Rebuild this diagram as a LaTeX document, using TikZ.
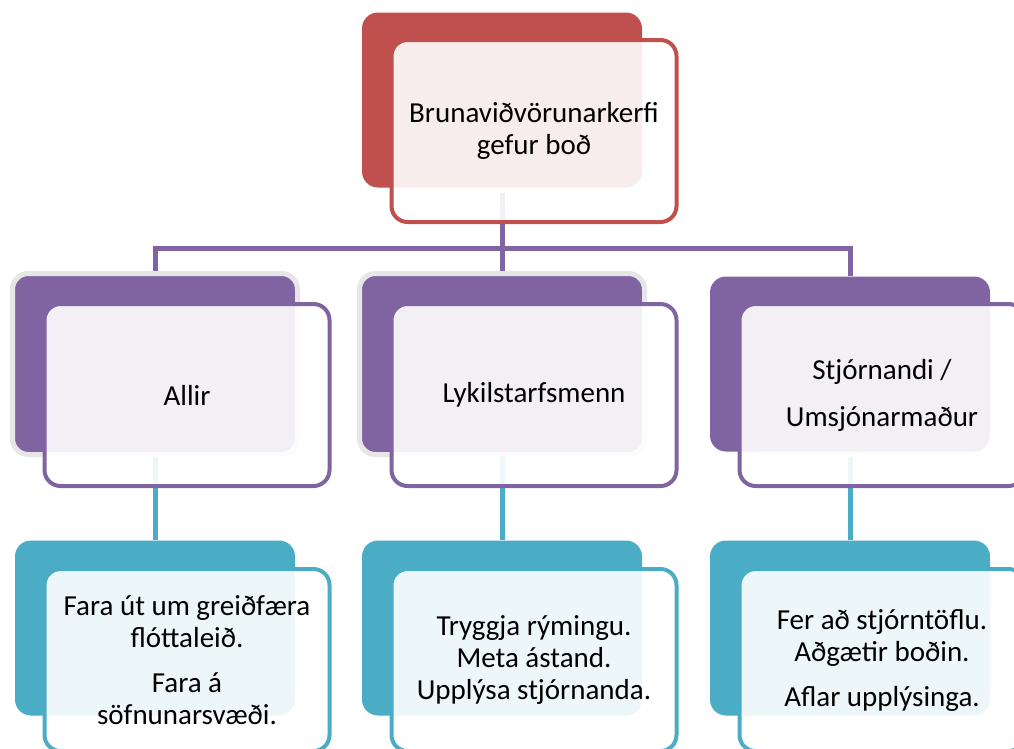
\documentclass[tikz,border=0pt]{standalone}
\usepackage{fontspec}
\setmainfont{Carlito}
\definecolor{cred}{HTML}{C0504D}
\definecolor{cpurple}{HTML}{8064A2}
\definecolor{cteal}{HTML}{4BACC6}
\definecolor{cring}{HTML}{E6E6E6}
\begin{document}
\begin{tikzpicture}[x=1pt,y=-1pt,
  back/.style={rounded corners=16pt, minimum width=280pt, minimum height=175pt, inner sep=0pt, fill=#1},
  ringed/.style={draw=cring, line width=5pt, minimum width=285pt, minimum height=181pt},
  front/.style={rounded corners=16pt, minimum width=285pt, minimum height=182pt, inner sep=0pt,
    draw=#1, line width=4pt, fill=white, fill opacity=0.9, draw opacity=1, text opacity=1,
    align=center, font=\fontsize{29}{32}\selectfont},
  conn/.style={draw=#1, line width=5pt}
]
\clip (0,0) rectangle (1014,748);
\fill[white] (0,0) rectangle (1014,748);
% back shapes
\node[back=cred] (b0) at (502,100) {};
\node[back=cpurple, ringed] (b1) at (155,364) {};
\node[back=cpurple, ringed] (b2) at (502,364) {};
\node[back=cpurple] (b3) at (850,364) {};
\node[back=cteal] (c1) at (155,628) {};
\node[back=cteal] (c2) at (502,628) {};
\node[back=cteal] (c3) at (850,628) {};
% connectors
\coordinate (bus) at (502,248);
\draw[conn=cpurple, shorten <=5pt] (b0.south) -- (bus);
\draw[conn=cpurple] (bus) -| (b1.north);
\draw[conn=cpurple] (bus) -- (b2.north);
\draw[conn=cpurple] (bus) -| (b3.north);
\draw[conn=cteal] (b1.south) -- (c1.north);
\draw[conn=cteal] (b2.south) -- (c2.north);
\draw[conn=cteal, shorten <=5pt] (b3.south) -- (c3.north);
% front shapes
\node[front=cred] (f0) at (534,131) {Brunaviðvörunarkerfi\\gefur boð};
\node[front=cpurple] (f1) at (187,395) {Allir};
\node[front=cpurple] (f2) at (534,395) {Lykilstarfsmenn};
\node[front=cpurple] (f3) at (882,395) {Stjórnandi /\\[15pt]Umsjónarmaður};
\node[front=cteal] (g1) at (187,660) {Fara út um greiðfæra\\flóttaleið.\\[13pt]Fara á\\söfnunarsvæði.};
\node[front=cteal] (g2) at (534,660) {Tryggja rýmingu.\\Meta ástand.\\Upplýsa stjórnanda.};
\node[front=cteal] (g3) at (882,660) {Fer að stjórntöflu.\\Aðgætir boðin.\\[13pt]Aflar upplýsinga.};
\end{tikzpicture}
\end{document}
